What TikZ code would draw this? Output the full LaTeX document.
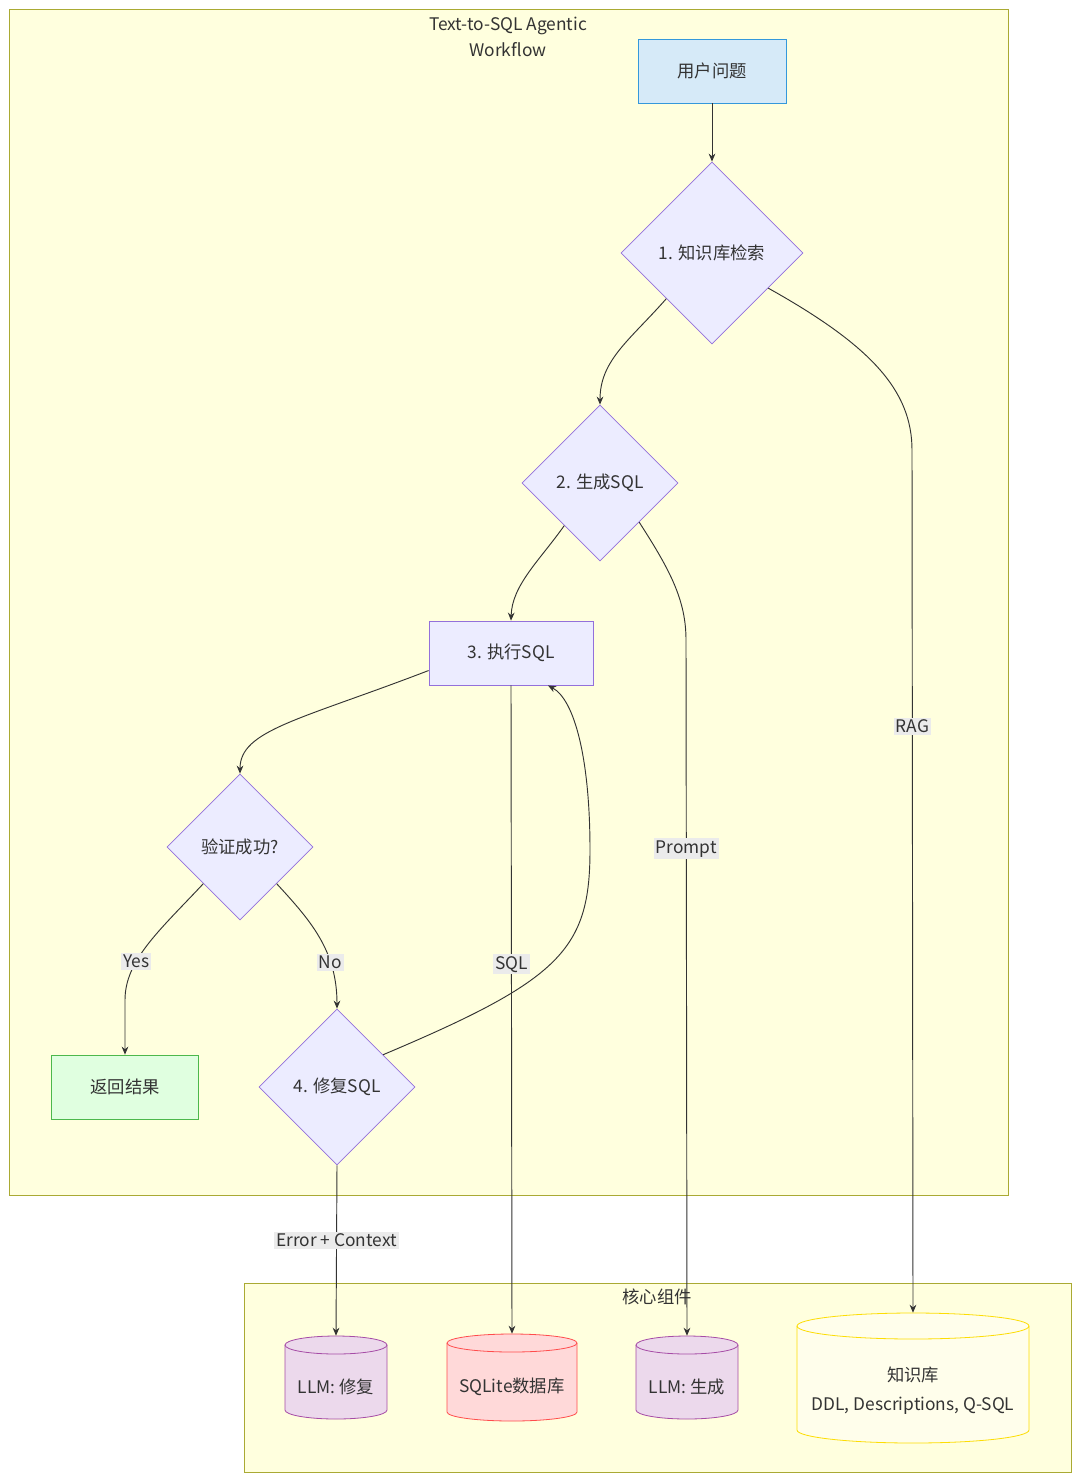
\documentclass[tikz,border=0pt]{standalone}
\usepackage{fontspec}
\setmainfont{Noto Sans CJK SC}
\usetikzlibrary{shapes.geometric,arrows.meta,calc}
\definecolor{grpfill}{HTML}{FFFFDE}
\definecolor{grpdraw}{HTML}{AAAA33}
\definecolor{ndfill}{HTML}{ECECFF}
\definecolor{nddraw}{HTML}{9370DB}
\definecolor{qfill}{HTML}{D6EAF8}
\definecolor{qdraw}{HTML}{3498DB}
\tikzset{
 every node/.style={font=\fontsize{13}{15}\selectfont, text=black!80},
 grp/.style={fill=grpfill,draw=grpdraw,line width=0.6pt},
 dia/.style={diamond,inner sep=0pt,fill=ndfill,draw=nddraw,line width=0.6pt,minimum width=#1,minimum height=#1},
 box/.style={rectangle,inner sep=0pt,minimum height=48pt,fill=ndfill,draw=nddraw,line width=0.6pt},
 edge/.style={draw=black!80,line width=0.7pt,-{Stealth[length=6pt,width=5pt]}},
 lbl/.style={fill=black!8,inner sep=1.5pt}
}
% x1 x2 ytop ybot ry fill draw name text
\newcommand\mycyl[9]{%
 \path[fill=#6,draw=#7,line width=0.6pt] (#1,#3) -- (#1,#4) arc[start angle=180,end angle=0,x radius={(#2-#1)/2},y radius=#5] -- (#2,#3) arc[start angle=0,end angle=-180,x radius={(#2-#1)/2},y radius=#5] -- cycle;
 \draw[draw=#7,line width=0.6pt] (#1,#3) arc[start angle=180,end angle=0,x radius={(#2-#1)/2},y radius=#5];
 \node[inner sep=0pt,minimum width={(#2-#1)*0.75pt},minimum height={(#4-#3+2*#5)*0.75pt},align=center] (#8) at ({(#1+#2)/2},{(#3+#4)/2}) {};
 \node[align=center] at ({(#1+#2)/2},{(#3+#4)/2+#5}) {#9};
}
\begin{document}
\begin{tikzpicture}[x=0.75pt,y=-0.75pt]
\useasboundingbox[fill=white] (0,0) rectangle (1080,1482);
\draw[grp] (9,9) rectangle (1008,1195);
\node[align=center] (t1) at (508,37) {Text-to-SQL Agentic\\[5pt]Workflow};
\draw[grp] (244,1283) rectangle (1071,1472);
\node (t2) at (657,1297) {核心组件};

\node[box,minimum width=111pt,fill=qfill,draw=qdraw] (q) at (712,71) {用户问题};
\node[dia=136.5pt] (d1) at (712,253) {1. 知识库检索};
\node[dia=117pt] (d2) at (600,483) {2. 生成SQL};
\node[box,minimum width=123pt] (b3) at (511,653) {3. 执行SQL};
\node[dia=109.5pt] (v) at (240,847) {验证成功?};
\node[box,minimum width=110pt,fill=green!12,draw=green!60!black!70] (ret) at (125,1087) {返回结果};
\node[dia=117pt] (d4) at (337,1087) {4. 修复SQL};

\mycyl{285}{387}{1345}{1410}{9}{violet!15}{violet!70}{l1}{LLM: 修复}
\mycyl{447}{577}{1343}{1412}{9}{red!15}{red!70}{sq}{SQLite数据库}
\mycyl{636}{738}{1345}{1410}{9}{violet!15}{violet!70}{l2}{LLM: 生成}
\mycyl{797}{1029}{1326}{1430}{13}{yellow!8}{yellow!80!orange}{kb}{知识库\\[7pt]DDL, Descriptions, Q-SQL}

\draw[edge] (q.south) -- (d1.north);
\draw[edge] (d1.225) .. controls (630,340) and (600,360) .. (d2.north);
\draw[edge] (d1.-32) .. controls (870,345) and (912,390) .. (912,450) -- node[lbl,pos=0.32]{RAG} (kb.north);
\draw[edge] (d2.230) .. controls (540,560) and (512,585) .. (b3.north);
\draw[edge] (d2.-45) .. controls (670,570) and (686,600) .. (686,640) -- node[lbl,pos=0.3]{Prompt} (l2.north);
\draw[edge] (b3.192) .. controls (300,720) and (240,730) .. (v.north);
\draw[edge] (b3.south) -- node[lbl,pos=0.43]{SQL} (sq.north);
\draw[edge] (v.225) .. controls (160,930) and (125,960) .. node[lbl,pos=0.66]{Yes} (125,1000) -- (ret.north);
\draw[edge] (v.-45) .. controls (310,920) and (337,950) .. node[lbl,pos=0.7]{No} (d4.north);
\draw[edge] (d4.35) .. controls (560,980) and (590,950) .. (590,850) .. controls (590,760) and (575,700) .. ($(b3.south)+(37,0)$);
\draw[edge] (d4.south) -- node[lbl,pos=0.44]{Error + Context} (l1.north);
\end{tikzpicture}
\end{document}
